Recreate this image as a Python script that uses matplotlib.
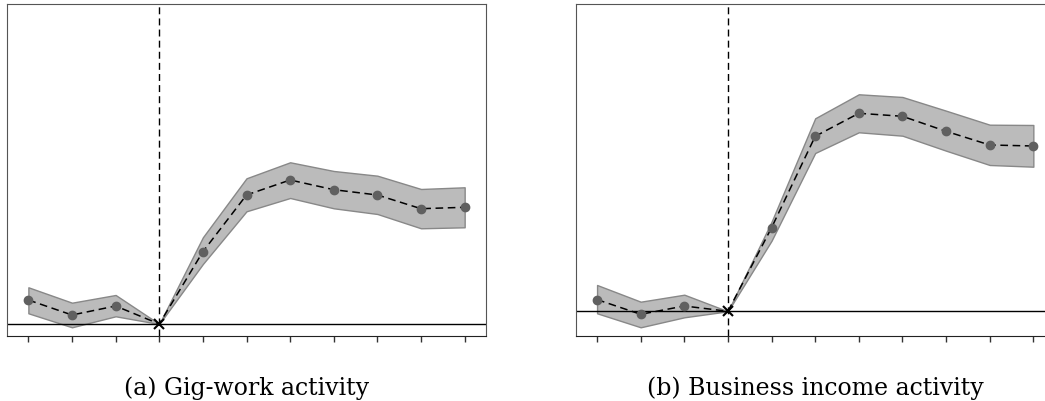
import matplotlib
matplotlib.use("Agg")
import matplotlib.pyplot as plt
import numpy as np

# periodos relativos al evento (0 = referencia)
periodos = [-3, -2, -1, 0, 1, 2, 3, 4, 5, 6, 7]

# (a) Gig-work
gig_coef = [0.24, 0.09, 0.18, 0.0, 0.723, 1.29, 1.44, 1.343, 1.29, 1.153, 1.167]
gig_lo = [0.107, -0.033, 0.077, 0.0, 0.60, 1.127, 1.26, 1.157, 1.10, 0.957, 0.967]
gig_hi = [0.367, 0.213, 0.29, 0.0, 0.867, 1.457, 1.617, 1.53, 1.483, 1.35, 1.367]

# (b) Business income
bus_coef = [0.117, -0.03, 0.053, 0.0, 0.836, 1.75, 1.98, 1.95, 1.80, 1.663, 1.653]
bus_lo = [-0.02, -0.16, -0.06, 0.0, 0.706, 1.583, 1.79, 1.756, 1.606, 1.463, 1.446]
bus_hi = [0.263, 0.096, 0.166, 0.0, 0.896, 1.93, 2.17, 2.143, 2.006, 1.866, 1.863]

paneles = [
    ("(a) Gig-work activity", gig_coef, gig_lo, gig_hi, (-0.12, 3.20), 0.0067),
    ("(b) Business income activity", bus_coef, bus_lo, bus_hi, (-0.247, 3.073), 0.5509),
]

fig = plt.figure(figsize=(10.45, 4.02), dpi=100)

for titulo, coef, lo, hi, ylim, x0 in paneles:
    ax = fig.add_axes([x0, 0.1617, 0.4584, 0.8259])
    x = np.array(periodos)
    ax.fill_between(x, lo, hi, facecolor="#bbbbbb", edgecolor="#888888", linewidth=1)
    ax.axhline(0, color="black", linewidth=1)
    ax.axvline(0, color="black", linewidth=1, linestyle=(0, (5, 3)))
    ax.plot(x, coef, color="black", linewidth=1.1, linestyle=(0, (5, 3)), zorder=3)
    m = x != 0
    ax.plot(x[m], np.array(coef)[m], "o", color="#606060", markersize=6, zorder=4)
    ax.plot([0], [0], "x", color="black", markersize=7, markeredgewidth=1.5, zorder=5)
    ax.set_xlim(-3.49, 7.49)
    ax.set_ylim(*ylim)
    ax.set_xticks(periodos)
    ax.set_xticklabels([])
    ax.set_yticks([])
    ax.tick_params(axis="x", direction="out", length=4, width=1, color="#333333")
    for lado in ["left", "top", "right"]:
        ax.spines[lado].set_color("#555555")
    ax.spines["bottom"].set_color("#222222")
    fig.text(x0 + 0.4584 / 2, 0.017, titulo, ha="center", va="baseline",
             fontsize=17, family="DejaVu Serif")

fig.savefig("out.png", dpi=100)
